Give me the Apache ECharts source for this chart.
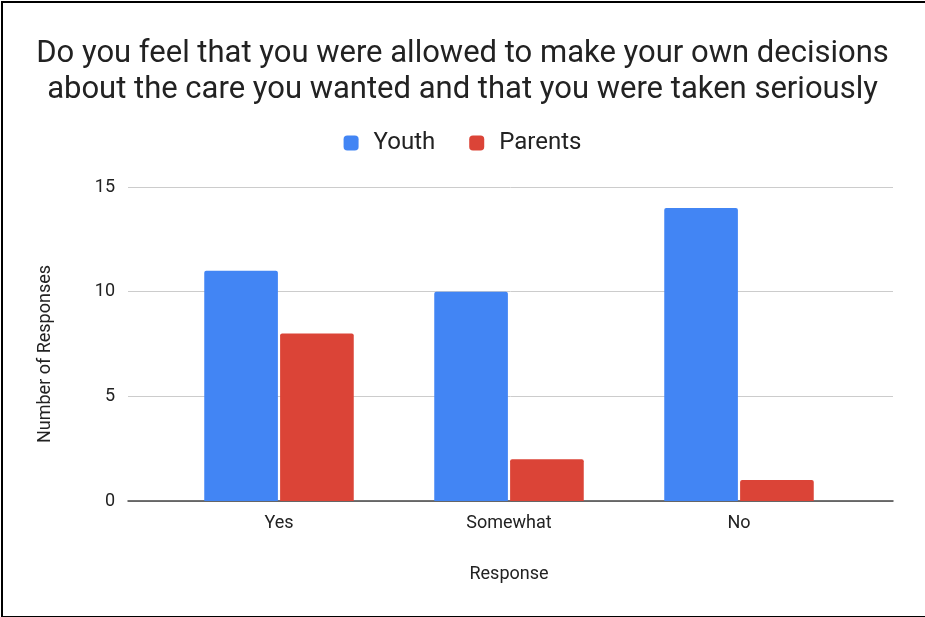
<!DOCTYPE html>
<html>
<head>
<meta charset="utf-8">
<script src="https://cdn.jsdelivr.net/npm/echarts@6/dist/echarts.min.js"></script>
<style>
  html, body { margin: 0; padding: 0; background: #fff; }
  #chart { position: absolute; left: 0; top: 0; width: 925px; height: 617px; }
  #frame { position: absolute; left: 1px; top: 1px; width: 930px; height: 613px;
    border-left: 2px solid #000; border-top: 2px solid #000; border-bottom: 2px solid #000;
    pointer-events: none; }
</style>
</head>
<body>
<div id="chart"></div>
<div id="frame"></div>
<script>
const categories = ['Yes', 'Somewhat', 'No']
const youth = [11, 10, 14]
const parents = [8, 2, 1]
const yTicks = { min: 0, max: 15, interval: 5 }

const chart = echarts.init(document.getElementById('chart'))
const font = 'Roboto, sans-serif'
const option = {
  animation: false,
  title: {
    text: 'Do you feel that you were allowed to make your own decisions\nabout the care you wanted and that you were taken seriously',
    left: 'center',
    top: 31,
    textStyle: { fontFamily: font, fontSize: 31, fontWeight: 'normal', color: '#222', lineHeight: 36 }
  },
  legend: {
    top: 126,
    left: 'center',
    icon: 'roundRect',
    itemWidth: 15,
    itemHeight: 15,
    itemGap: 34,
    textStyle: { fontFamily: font, fontSize: 24, color: '#222', padding: [0, 0, 0, 10] },
    data: ['Youth', 'Parents']
  },
  grid: [
    { left: 128, right: 32, top: 187, bottom: 116 },
    { left: 164, right: 71, top: 187, bottom: 116 }
  ],
  xAxis: [
    {
      gridIndex: 0, type: 'value', min: 0, max: 1,
      axisLine: { show: true, lineStyle: { color: '#444', width: 1.5 } },
      axisTick: { show: false }, axisLabel: { show: false }, splitLine: { show: false }
    },
    {
      gridIndex: 1, type: 'category', data: categories,
      axisLine: { show: false }, axisTick: { show: false },
      axisLabel: { fontFamily: font, fontSize: 18, color: '#222', margin: 13 },
      name: 'Response', nameLocation: 'middle', nameGap: 64,
      nameTextStyle: { fontFamily: font, fontSize: 18, color: '#222' }
    }
  ],
  yAxis: [
    {
      gridIndex: 0, type: 'value', min: yTicks.min, max: yTicks.max, interval: yTicks.interval,
      axisLine: { show: false }, axisTick: { show: false },
      axisLabel: { fontFamily: font, fontSize: 18, color: '#222', margin: 13 },
      splitLine: { lineStyle: { color: '#ccc', width: 1 } },
      name: 'Number of Responses', nameLocation: 'middle', nameGap: 74,
      nameTextStyle: { fontFamily: font, fontSize: 18, color: '#222', padding: [0, 20, 0, 0] }
    },
    {
      gridIndex: 1, type: 'value', min: yTicks.min, max: yTicks.max, interval: yTicks.interval,
      show: false, splitLine: { show: false }
    }
  ],
  series: [
    {
      name: 'Youth', type: 'bar', xAxisIndex: 1, yAxisIndex: 1,
      data: youth, barGap: '3%', barCategoryGap: '35%',
      itemStyle: { color: '#4285F4', borderRadius: [2, 2, 0, 0] }
    },
    {
      name: 'Parents', type: 'bar', xAxisIndex: 1, yAxisIndex: 1,
      data: parents,
      itemStyle: { color: '#DB4437', borderRadius: [2, 2, 0, 0] }
    }
  ]
}
chart.setOption(option)
</script>
</body>
</html>
